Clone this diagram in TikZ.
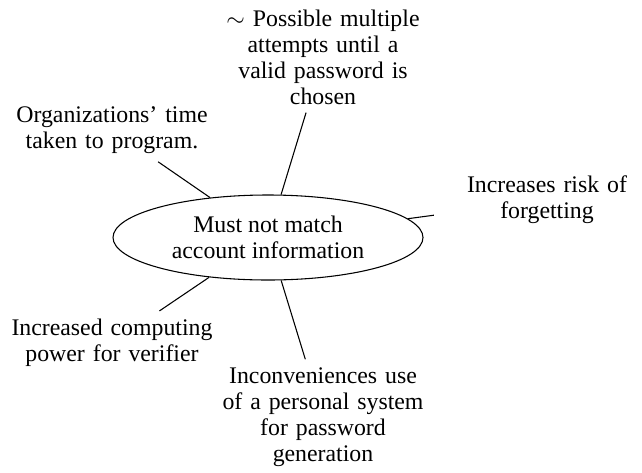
\documentclass[tikz,border=0pt]{standalone}
\usepackage{fontspec}
\setmainfont{Liberation Serif}
\usetikzlibrary{shapes.geometric}
\begin{document}
\begin{tikzpicture}[x=0.42pt,y=-0.42pt,
  lbl/.style={align=center,text width=88pt,font=\fontsize{10}{10.9}\selectfont,inner sep=3.3pt},
  hub/.style={ellipse,draw,line width=0.45pt,minimum width=130.2pt,minimum height=35.7pt,inner sep=0pt,align=center,font=\fontsize{10}{10.9}\selectfont},
  link/.style={draw,line width=0.45pt}]
\useasboundingbox (0,0) rectangle (642,472);
\node[hub] (c) at (268,237.5) {Must not match\\account information};
\node[lbl] (t1) at (323,57) {$\sim$ Possible multiple\\attempts until a\\valid password is\\chosen};
\node[lbl] (t2) at (112,130) {Organizations' time\\taken to program.};
\node[lbl] (t3) at (547,200) {Increases risk of\\forgetting};
\node[lbl] (t4) at (112,343) {Increased computing\\power for verifier};
\node[lbl] (t5) at (323,417) {Inconveniences use\\of a personal system\\for password\\generation};
\draw[link] (c) -- (t1);
\draw[link] (c) -- (t2);
\draw[link] (c) -- (t3);
\draw[link] (c) -- (t4);
\draw[link] (c) -- (t5);
\end{tikzpicture}
\end{document}
